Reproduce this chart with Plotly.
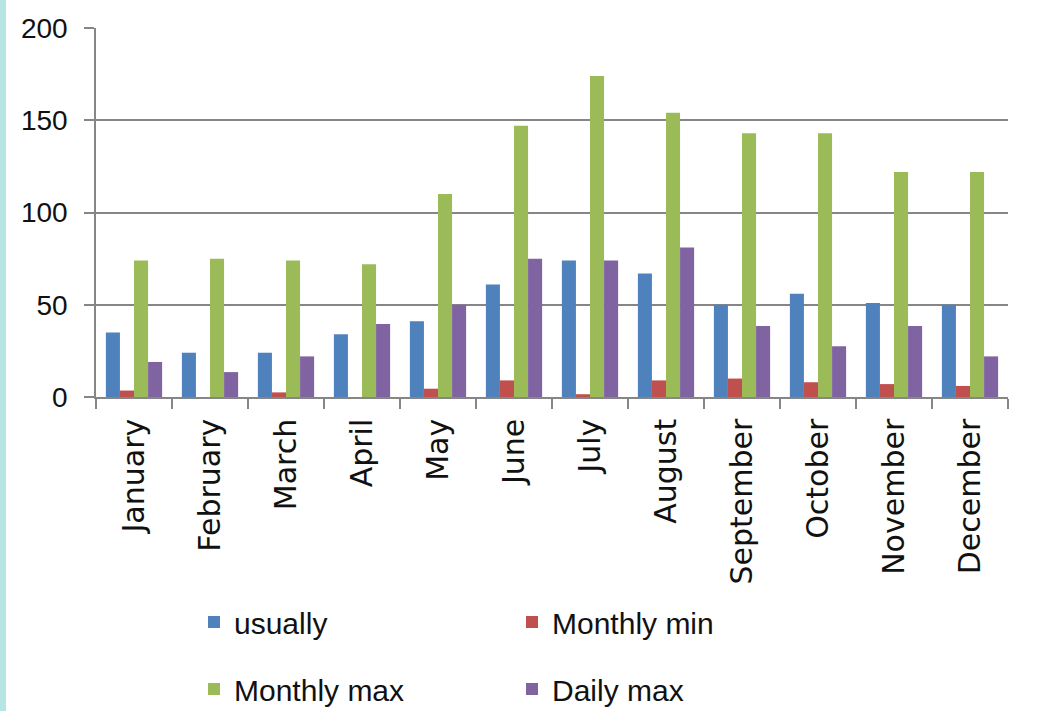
import plotly.graph_objects as go

months = ["January", "February", "March", "April", "May", "June", "July",
          "August", "September", "October", "November", "December"]
usually = [35, 24, 24, 34, 41, 61, 74, 67, 50, 56, 51, 50]
monthly_min = [3.5, 0, 2.5, 0, 4.5, 9, 1.5, 9, 10, 8, 7, 6]
monthly_max = [74, 75, 74, 72, 110, 147, 174, 154, 143, 143, 122, 122]
daily_max = [19, 13.5, 22, 39.5, 50, 75, 74, 81, 38.5, 27.5, 38.5, 22]

colors = {"usually": "#4F81BD", "Monthly min": "#C0504D",
          "Monthly max": "#9BBB59", "Daily max": "#8064A2"}

W, H = 1046, 711
L, R, T, B = 96, 1008, 28, 397

fig = go.Figure()
series = [("usually", usually, "legend"), ("Monthly min", monthly_min, "legend"),
          ("Monthly max", monthly_max, "legend2"), ("Daily max", daily_max, "legend2")]
for name, vals, lg in series:
    fig.add_trace(go.Bar(x=months, y=vals, name=name, legend=lg,
                         marker=dict(color=colors[name], line=dict(width=0))))

legend_font = dict(family="Liberation Sans, Arial", size=30, color="#111111")
common_legend = dict(orientation="h", xref="container", yref="container",
                     xanchor="left", yanchor="middle", x=194 / W,
                     entrywidth=273, entrywidthmode="pixels",
                     font=legend_font, bgcolor="rgba(0,0,0,0)", borderwidth=0,
                     itemclick=False)

fig.update_layout(
    width=W, height=H,
    margin=dict(l=L, r=W - R, t=T, b=H - B, pad=0, autoexpand=False),
    paper_bgcolor="white", plot_bgcolor="white",
    barmode="group", bargap=0.26, bargroupgap=0,
    showlegend=True,
    legend=dict(common_legend, y=1 - 622 / H),
    legend2=dict(common_legend, y=1 - 689 / H),
    xaxis=dict(type="category", showgrid=False, showline=True, linecolor="#868686",
               linewidth=1.5, ticks="outside", tickson="boundaries", ticklen=10,
               tickcolor="#868686", tickwidth=1.5, tickangle=-90,
               ticklabelstandoff=8, automargin=False,
               tickfont=dict(family="DejaVu Sans", size=30, color="#111111"),
               mirror=False),
    yaxis=dict(range=[0, 200], dtick=50, showgrid=True, gridcolor="#868686",
               gridwidth=1.5, showline=True, linecolor="#868686", linewidth=1.5,
               ticks="outside", ticklen=10, tickcolor="#868686", tickwidth=1.5,
               ticklabelstandoff=11, zeroline=False, automargin=False,
               tickfont=dict(family="Liberation Sans, Arial", size=28, color="#111111")),
    shapes=[dict(type="rect", xref="paper", yref="paper",
                 x0=-L / (R - L), x1=(6 - L) / (R - L),
                 y0=-(H - B) / (B - T), y1=1 + T / (B - T),
                 fillcolor="#B7E4E4", line=dict(width=0), layer="below")],
)

fig.write_html("out.html", config={"displayModeBar": False},
               post_script="document.body.style.margin='0';")
